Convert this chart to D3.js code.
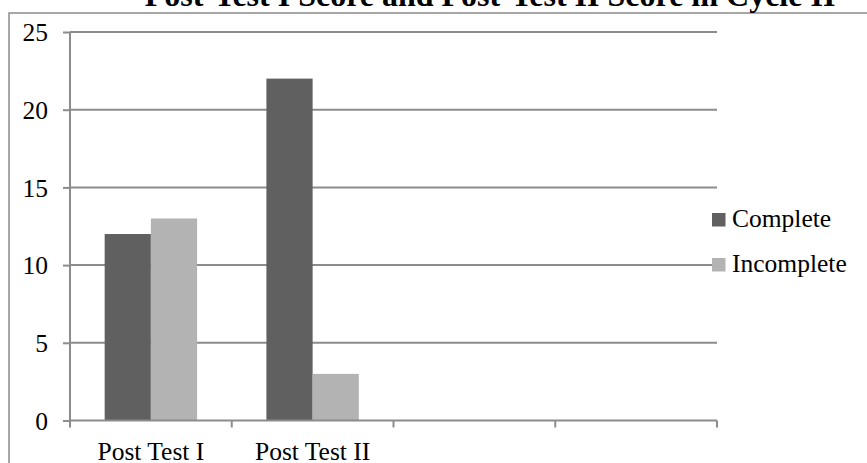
<!DOCTYPE html>
<html>
<head>
<meta charset="utf-8">
<script src="https://cdn.jsdelivr.net/npm/d3@7"></script>
<style>
  html, body { margin: 0; padding: 0; background: #fff; overflow: hidden; }
  svg { display: block; font-family: "Liberation Serif", "Times New Roman", serif; }
</style>
</head>
<body>
<svg id="chart" width="867" height="463"></svg>
<script>
// Categories on the x axis (the last two slots are empty)
const categories = ["Post Test I", "Post Test II", "", " "];
const seriesNames = ["Complete", "Incomplete"];
const completeValues = [12, 22, null, null];
const incompleteValues = [13, 3, null, null];
const yTicks = [0, 5, 10, 15, 20, 25];
const titleText = "Post-Test I Score and Post-Test II Score in Cycle II";

const colors = ["#606060", "#b3b3b3"];
const series = [completeValues, incompleteValues];

const svg = d3.select("#chart");

// outer frame of the chart area (right and bottom run past the page)
svg.append("rect")
  .attr("x", 9).attr("y", 13)
  .attr("width", 900).attr("height", 500)
  .attr("fill", "none").attr("stroke", "#8a8a8a").attr("stroke-width", 1.5);

const plot = { left: 70, right: 717, top: 32, bottom: 420.5 };

const x = d3.scaleBand()
  .domain(categories)
  .range([plot.left, plot.right])
  .paddingInner(0).paddingOuter(0);

// bar group inside each category: gap width 150% of a bar
const inner = d3.scaleBand()
  .domain(seriesNames)
  .range([0, x.bandwidth()])
  .paddingInner(0)
  .paddingOuter(0.75);

const y = d3.scaleLinear().domain([0, 25]).range([plot.bottom, plot.top]);

// horizontal gridlines
svg.append("g")
  .selectAll("line")
  .data(yTicks.filter(d => d > 0))
  .join("line")
  .attr("x1", plot.left).attr("x2", plot.right)
  .attr("y1", d => y(d)).attr("y2", d => y(d))
  .attr("stroke", "#8c8c8c").attr("stroke-width", 2);

// bars
seriesNames.forEach((name, si) => {
  svg.append("g")
    .selectAll("rect")
    .data(categories.map((c, i) => ({ c, v: series[si][i] })).filter(d => d.v != null))
    .join("rect")
    .attr("x", d => x(d.c) + inner(name))
    .attr("width", inner.bandwidth())
    .attr("y", d => y(d.v))
    .attr("height", d => y(0) - y(d.v))
    .attr("fill", colors[si]);
});

// y axis
const yAxis = d3.axisLeft(y)
  .tickValues(yTicks)
  .tickSize(7)
  .tickPadding(15)
  .tickFormat(d3.format("d"));
const gy = svg.append("g")
  .attr("transform", `translate(${plot.left},0)`)
  .call(yAxis);
gy.select(".domain").attr("stroke", "#8c8c8c").attr("stroke-width", 2)
  .attr("d", `M0,${plot.top}V${plot.bottom}`);
gy.selectAll(".tick line").attr("stroke", "#8c8c8c").attr("stroke-width", 2);
gy.selectAll(".tick text")
  .attr("fill", "#000")
  .attr("font-size", "25.5px")
  .attr("font-family", "Liberation Serif, Times New Roman, serif")
  .attr("dy", "0.34em");

// x axis with boundary ticks between categories
const gx = svg.append("g")
  .attr("transform", `translate(0,${plot.bottom})`);
gx.append("line")
  .attr("x1", plot.left).attr("x2", plot.right)
  .attr("stroke", "#8c8c8c").attr("stroke-width", 2);
const bounds = categories.map(c => x(c)).concat([x(categories[categories.length - 1]) + x.bandwidth()]);
gx.selectAll("line.bound")
  .data(bounds)
  .join("line")
  .attr("class", "bound")
  .attr("x1", d => d).attr("x2", d => d)
  .attr("y1", 0).attr("y2", 7)
  .attr("stroke", "#8c8c8c").attr("stroke-width", 2);
gx.selectAll("text")
  .data(categories.filter(c => c.trim() !== ""))
  .join("text")
  .attr("x", d => x(d) + x.bandwidth() / 2)
  .attr("y", 39.5)
  .attr("text-anchor", "middle")
  .attr("font-size", "25.5px")
  .attr("fill", "#000")
  .text(d => d);

// title (runs off the top edge)
svg.append("text")
  .attr("x", 490)
  .attr("y", 6)
  .attr("text-anchor", "middle")
  .attr("font-size", "32px")
  .attr("font-weight", "bold")
  .attr("fill", "#000")
  .text(titleText);

// legend
const legend = svg.append("g");
const legendRows = [226.5, 271.5];
seriesNames.forEach((name, i) => {
  legend.append("rect")
    .attr("x", 712).attr("y", legendRows[i] - 13.5)
    .attr("width", 13.5).attr("height", 13.5)
    .attr("fill", colors[i]);
  legend.append("text")
    .attr("x", 732).attr("y", legendRows[i])
    .attr("font-size", "25.5px")
    .attr("fill", "#000")
    .text(name);
});
</script>
</body>
</html>
